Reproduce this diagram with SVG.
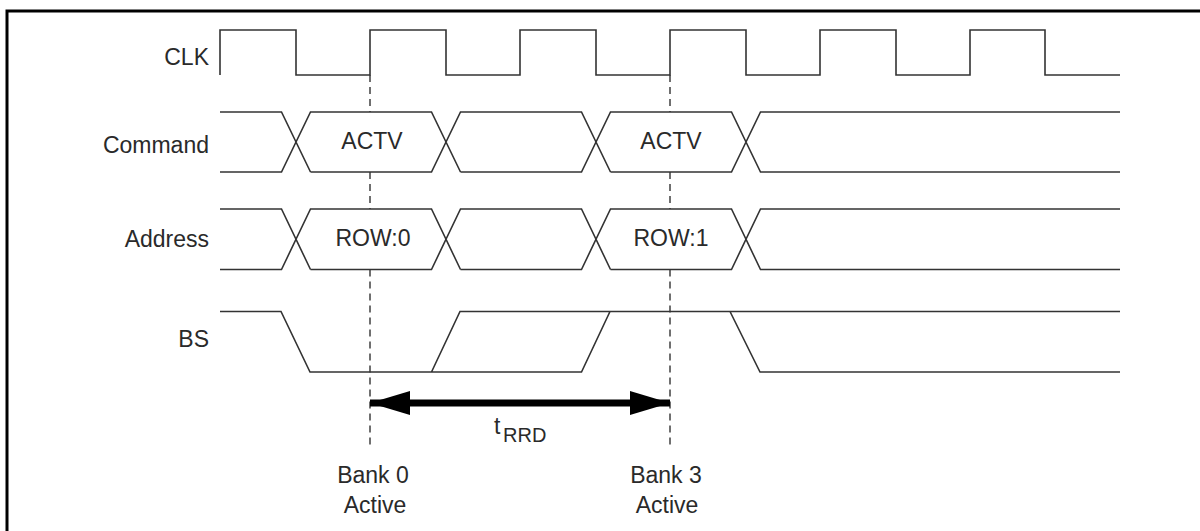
<svg xmlns="http://www.w3.org/2000/svg" width="1200" height="531" viewBox="0 0 1200 531">
<style>
.sig{fill:none;stroke:#333;stroke-width:1.6}
.dash{fill:none;stroke:#333;stroke-width:1.4;stroke-dasharray:7 5}
.frame{fill:none;stroke:#000;stroke-width:3}
text{font-family:"Liberation Sans",Arial,sans-serif;font-size:23px;fill:#2a2a2a}
.lbl{text-anchor:end}
.mid{text-anchor:middle}
</style>
<defs>
<marker id="ah" viewBox="0 0 40 24" refX="40" refY="12" markerWidth="40" markerHeight="24" markerUnits="userSpaceOnUse" orient="auto-start-reverse">
<path d="M0,0 L40,12 L0,24 Z" fill="#000"/>
</marker>
</defs>
<rect width="1200" height="531" fill="#fff"/>
<path class="frame" d="M7,531 V11 H1200"/>
<g id="labels">
<text class="lbl" x="209" y="65">CLK</text>
<text class="lbl" x="209" y="153">Command</text>
<text class="lbl" x="209" y="247">Address</text>
<text class="lbl" x="209" y="347">BS</text>
</g>
<g id="clk">
<path class="sig" d="M220,75 V30 H296 V75 H370 V30 H446 V75 H520 V30 H596 V75 H670 V30 H746 V75 H820 V30 H896 V75 H970 V30 H1045 V75 H1120"/>
</g>
<g id="command">
<path class="sig" d="M220,112 H281.5 L310.5,172 M220,172 H281.5 L310.5,112 H431.5 L460.5,172 M310.5,172 H431.5 L460.5,112 H581.5 L610.5,172 M460.5,172 H581.5 L610.5,112 H731.5 L760.5,172 H1120 M610.5,172 H731.5 L760.5,112 H1120"/>
<text class="mid" x="372" y="149">ACTV</text>
<text class="mid" x="671" y="149">ACTV</text>
</g>
<g id="address">
<path class="sig" d="M220,209 H281.5 L310.5,269.5 M220,269.5 H281.5 L310.5,209 H431.5 L460.5,269.5 M310.5,269.5 H431.5 L460.5,209 H581.5 L610.5,269.5 M460.5,269.5 H581.5 L610.5,209 H731.5 L760.5,269.5 H1120 M610.5,269.5 H731.5 L760.5,209 H1120"/>
<text class="mid" x="373" y="246">ROW:0</text>
<text class="mid" x="671" y="246">ROW:1</text>
</g>
<g id="bs">
<path class="sig" d="M220,311.5 H281 L310,372 H581.5 L610,311.5 M431.5,372 L460,311.5 H1120 M730,311.5 L760,372 H1120"/>
</g>
<g id="connectors">
<path class="dash" d="M370,75 V112 M370,172 V209 M370,269.5 V448 M670,75 V112 M670,172 V209 M670,269.5 V448"/>
<line x1="370" y1="403" x2="670" y2="403" stroke="#000" stroke-width="7" marker-start="url(#ah)" marker-end="url(#ah)"/>
</g>
<g id="annotations">
<text x="494" y="434">t<tspan x="503" y="442" font-size="20">RRD</tspan></text>
<text class="mid" x="373" y="483">Bank 0</text>
<text class="mid" x="375" y="513">Active</text>
<text class="mid" x="666" y="483">Bank 3</text>
<text class="mid" x="667" y="513">Active</text>
</g>
</svg>
